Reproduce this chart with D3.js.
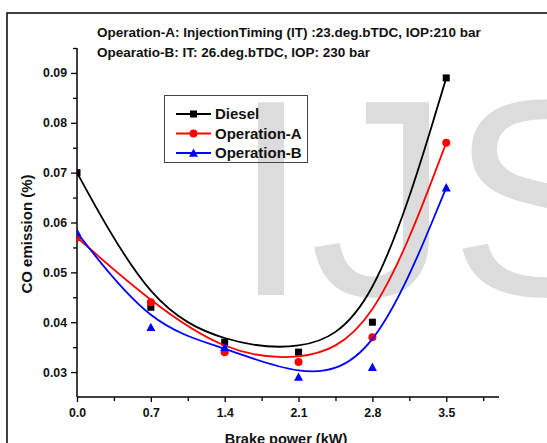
<!DOCTYPE html>
<html><head><meta charset="utf-8">
<script src="https://cdn.jsdelivr.net/npm/d3@7"></script>
<style>body{margin:0;background:#fff}svg{display:block}text{font-family:"Liberation Sans",Arial,sans-serif;font-weight:bold}</style>
</head><body><svg id="c" width="547" height="443"></svg>
<script>
const xValues = [0.0, 0.7, 1.4, 2.1, 2.8, 3.5];
const diesel = [0.070, 0.043, 0.036, 0.034, 0.040, 0.089];
const operationA = [0.057, 0.044, 0.034, 0.032, 0.037, 0.076];
const operationB = [0.058, 0.039, 0.035, 0.029, 0.031, 0.067];
const seriesNames = ["Diesel", "Operation-A", "Operation-B"];
const seriesColors = ["#000000", "#ff0000", "#0000ff"];
const seriesShapes = ["square", "circle", "triangle"];
const xTicks = [0.0, 0.7, 1.4, 2.1, 2.8, 3.5];
const yTicks = [0.03, 0.04, 0.05, 0.06, 0.07, 0.08, 0.09];
const titleLines = ["Operation-A: InjectionTiming (IT) :23.deg.bTDC, IOP:210 bar", "Opearatio-B: IT: 26.deg.bTDC, IOP: 230 bar"];

const svg = d3.select("#c");
const L = 77, R = 499, T = 48, B = 397;
const x = d3.scaleLinear().domain([0, 4.0]).range([L, R]);
const y = d3.scaleLinear().domain([0.025, 0.095]).range([B, T]);

// watermark
svg.append("text").attr("x", 232).attr("y", 295).attr("font-size", 280)
  .style("font-weight", "normal").attr("fill", "#dcdcdc").text("IJS");

// outer frame
svg.append("rect").attr("x", 7).attr("y", 13).attr("width", 700).attr("height", 600)
  .attr("fill", "none").attr("stroke", "#000").attr("stroke-width", 1.5);

// titles
titleLines.forEach((t, i) => svg.append("text").attr("x", 97).attr("y", 37 + i * 20)
  .attr("font-size", 13.5).attr("fill", "#111").text(t));

// axes
const xAxis = svg.append("g").attr("transform", `translate(0,${B})`)
  .call(d3.axisBottom(x).tickValues(xTicks).tickFormat(d3.format(".1f")).tickSize(5).tickPadding(6));
const xMinor = svg.append("g").attr("transform", `translate(0,${B})`)
  .call(d3.axisBottom(x).tickValues(d3.range(0.35, 4.0, 0.7)).tickFormat("").tickSize(4));
const yAxis = svg.append("g").attr("transform", `translate(${L},0)`)
  .call(d3.axisLeft(y).tickValues(yTicks).tickFormat(d3.format(".2f")).tickSize(6).tickPadding(4));
const yMinor = svg.append("g").attr("transform", `translate(${L},0)`)
  .call(d3.axisLeft(y).tickValues([0.035, 0.045, 0.055, 0.065, 0.075, 0.085, 0.095]).tickFormat("").tickSize(4));
[xAxis, xMinor, yAxis, yMinor].forEach(g => {
  g.selectAll("path").attr("stroke", "#000").attr("stroke-width", 1.5);
  g.selectAll("line").attr("stroke", "#000").attr("stroke-width", 1.3);
  g.selectAll("text").attr("font-size", 12.3).attr("fill", "#111")
    .style("font-family", '"Liberation Sans",Arial,sans-serif').style("font-weight", "bold");
});
xMinor.select("path").remove(); yMinor.select("path").remove();
yAxis.select("path").attr("d", `M0,${B}V${T}`);
xAxis.select("path").attr("d", `M${L},0H${R}`);

// axis labels
svg.append("text").attr("transform", `translate(32,234) rotate(-90)`).attr("text-anchor", "middle")
  .attr("font-size", 15).attr("fill", "#111").text("CO emission (%)");
svg.append("text").attr("x", 286).attr("y", 444).attr("text-anchor", "middle")
  .attr("font-size", 14.5).attr("fill", "#111").text("Brake power (kW)");

// clip
svg.append("clipPath").attr("id", "clip").append("rect")
  .attr("x", L).attr("y", 0).attr("width", 470).attr("height", B);

function marker(g, shape, cx, cy, color) {
  if (shape === "square") g.append("rect").attr("x", cx - 3.5).attr("y", cy - 3.5).attr("width", 7).attr("height", 7).attr("fill", color);
  else if (shape === "circle") g.append("circle").attr("cx", cx).attr("cy", cy).attr("r", 4).attr("fill", color);
  else g.append("path").attr("d", `M${cx},${cy - 4.5}L${cx + 4.5},${cy + 3.8}L${cx - 4.5},${cy + 3.8}Z`).attr("fill", color);
}

const allSeries = [diesel, operationA, operationB];
const plot = svg.append("g").attr("clip-path", "url(#clip)");
const line = d3.line().x(d => x(d[0])).y(d => y(d[1])).curve(d3.curveBasis);
allSeries.forEach((vals, si) => {
  const pts = xValues.map((xv, i) => [xv, vals[i]]);
  plot.append("path").attr("d", line(pts)).attr("fill", "none")
    .attr("stroke", seriesColors[si]).attr("stroke-width", 1.8);
  pts.forEach(p => marker(plot, seriesShapes[si], x(p[0]), y(p[1]), seriesColors[si]));
});

// legend
const lg = svg.append("g");
lg.append("rect").attr("x", 164.5).attr("y", 95.5).attr("width", 143).attr("height", 67)
  .attr("fill", "none").attr("stroke", "#444").attr("stroke-width", 1);
seriesNames.forEach((n, i) => {
  const cy = 114 + i * 19.5;
  lg.append("line").attr("x1", 176).attr("x2", 211).attr("y1", cy).attr("y2", cy)
    .attr("stroke", seriesColors[i]).attr("stroke-width", 2);
  marker(lg, seriesShapes[i], 193.5, cy, seriesColors[i]);
  lg.append("text").attr("x", 215).attr("y", cy + 5.4).attr("font-size", 15).attr("fill", "#111").text(n);
});
</script></body></html>
